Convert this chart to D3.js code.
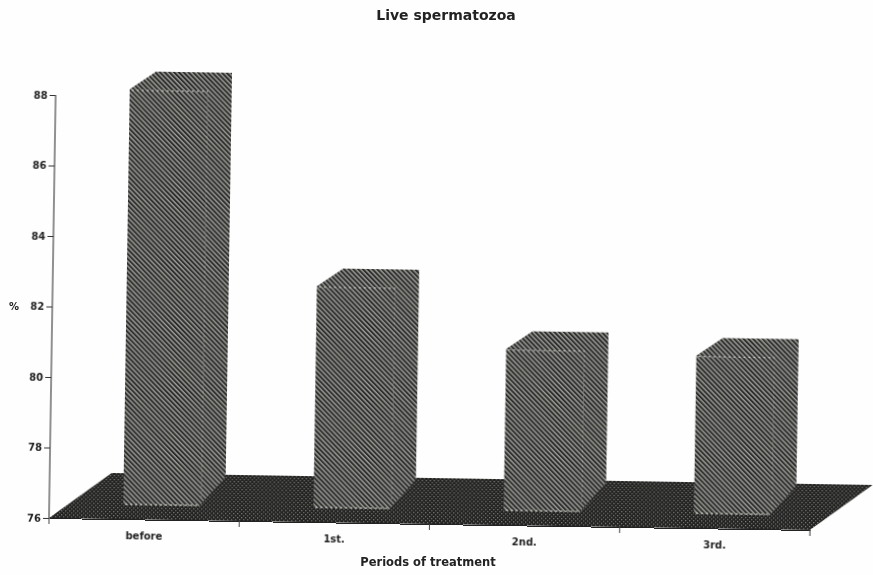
<!DOCTYPE html>
<html>
<head>
<meta charset="utf-8">
<script src="https://cdn.jsdelivr.net/npm/d3@7"></script>
<style>
  html, body { margin: 0; padding: 0; background: #fefefe; }
  text { font-family: "DejaVu Sans", sans-serif; font-weight: bold; fill: #222; }
</style>
</head>
<body>
<div id="chart"></div>
<script>
const periods = ['before', '1st.', '2nd.', '3rd.'];
const livePct = [87.8, 82.3, 80.6, 80.5];
const yTicks = [76, 78, 80, 82, 84, 86, 88];

const width = 873, height = 575;
const originX = 49, originY = 518;
const tilt = 0.9; // the scan is slightly rotated

const svg = d3.select('#chart').append('svg')
    .attr('width', width)
    .attr('height', height)
    .style('display', 'block');

const defs = svg.append('defs');

const stripes = defs.append('pattern')
    .attr('id', 'stripes')
    .attr('patternUnits', 'userSpaceOnUse')
    .attr('patternTransform', 'rotate(-45)')
    .attr('width', 3.4).attr('height', 3.4);
stripes.append('rect').attr('width', 3.4).attr('height', 3.4).attr('fill', '#a2a29e');
stripes.append('rect').attr('width', 2).attr('height', 3.4).attr('fill', '#2c2c2a');

const dots = defs.append('pattern')
    .attr('id', 'dots')
    .attr('patternUnits', 'userSpaceOnUse')
    .attr('width', 4).attr('height', 4);
dots.append('rect').attr('width', 4).attr('height', 4).attr('fill', '#242321');
dots.append('rect').attr('x', 0).attr('y', 0).attr('width', 1.3).attr('height', 1.3).attr('fill', '#7c7b74');
dots.append('rect').attr('x', 2).attr('y', 2).attr('width', 1.3).attr('height', 1.3).attr('fill', '#6a6963');

defs.append('filter').attr('id', 'soft')
  .append('feGaussianBlur').attr('stdDeviation', 0.35);

const x = d3.scaleBand().domain(periods).range([0, 761]);
const y = d3.scaleLinear().domain([76, 88]).range([0, -423]);

// box shape, relative to the band start
const barLeft = 74, frontW = 76, boxW = 102;
const baseLift = 14, topDx = 26, topDy = 18, footDy = 30, seam = 78;
const floorDx = 62, floorDy = 46;

const g = svg.append('g')
    .attr('transform', `translate(${originX},${originY}) rotate(${tilt})`);

const marks = g.append('g').attr('filter', 'url(#soft)');

// floor
marks.append('path')
    .attr('d', d3.line()([[0, 0], [floorDx, -floorDy], [761 + floorDx, -floorDy], [761, 0]]) + 'Z')
    .attr('fill', 'url(#dots)');

// bars
const bar = marks.selectAll('g.bar')
  .data(periods.map((p, i) => ({ p, v: livePct[i] })))
  .join('g')
    .attr('class', 'bar')
    .attr('transform', d => `translate(${x(d.p) + barLeft},0)`);

bar.append('path')
    .attr('fill', 'url(#stripes)')
    .attr('d', d => {
      const top = y(d.v) - baseLift, base = -baseLift;
      return d3.line()([
        [0, top], [topDx, top - topDy], [boxW, top - topDy],
        [boxW, base - footDy], [frontW, base], [0, base]
      ]) + 'Z';
    });

// dotted edges of the box
bar.append('path')
    .attr('fill', 'none')
    .attr('stroke', '#d8d8d2')
    .attr('stroke-width', 1)
    .attr('stroke-dasharray', '2 3')
    .attr('d', d => {
      const top = y(d.v) - baseLift, base = -baseLift;
      return `M2,${top + 1}H${seam}M2,${base - 1}H${frontW}`;
    });
bar.append('path')
    .attr('fill', 'none')
    .attr('stroke', '#d8d8d2')
    .attr('stroke-opacity', 0.35)
    .attr('stroke-dasharray', '2 3')
    .attr('d', d => `M${seam},${y(d.v) - baseLift}V${-baseLift - 8}`);

// y axis
const yAxis = g.append('g')
    .call(d3.axisLeft(y).tickValues(yTicks).tickSize(6).tickPadding(2).tickFormat(d3.format('d')));
yAxis.select('.domain').attr('stroke', '#555').attr('stroke-width', 1.3).attr('d', `M0,${y(88)}V0`);
yAxis.selectAll('.tick line').attr('stroke', '#333');
yAxis.selectAll('text').style('font-size', '10px').style('fill', '#222').style('font-family', '"DejaVu Sans", sans-serif');

// x axis: ticks sit on the band edges, labels in the middle
const xAxis = g.append('g')
    .call(d3.axisBottom(x).tickSize(0).tickPadding(13));
xAxis.select('.domain').attr('stroke', '#222');
xAxis.selectAll('text').style('font-size', '10px').style('fill', '#222').style('font-family', '"DejaVu Sans", sans-serif');
g.append('g').selectAll('line')
  .data(periods.map(p => x(p)).concat(x.range()[1]))
  .join('line')
    .attr('x1', d => d).attr('x2', d => d)
    .attr('y1', 0).attr('y2', 6)
    .attr('stroke', '#444');

svg.append('text')
    .attr('x', 446).attr('y', 20)
    .attr('text-anchor', 'middle')
    .style('font-size', '14px')
    .text('Live spermatozoa');

svg.append('text')
    .attr('x', 14).attr('y', 310)
    .attr('text-anchor', 'middle')
    .style('font-size', '10px')
    .text('%');

svg.append('text')
    .attr('x', 428).attr('y', 566)
    .attr('text-anchor', 'middle')
    .style('font-size', '11.5px')
    .text('Periods of treatment');
</script>
</body>
</html>
